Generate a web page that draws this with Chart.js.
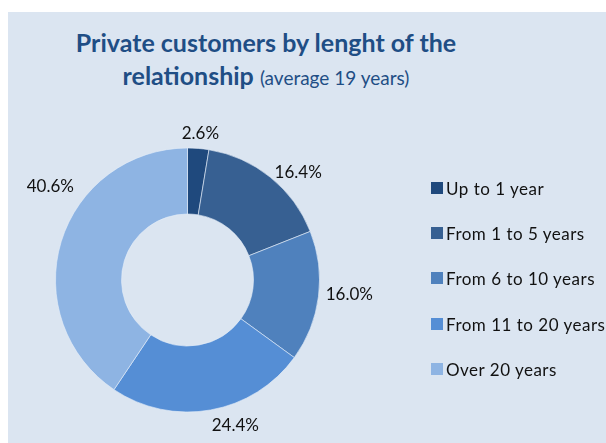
<!DOCTYPE html>
<html>
<head>
<meta charset="utf-8">
<script src="https://cdn.jsdelivr.net/npm/chart.js@4"></script>
<style>
  html, body { margin: 0; padding: 0; background: #ffffff; }
  body { width: 606px; height: 443px; position: relative; overflow: hidden; font-family: Lato, "Open Sans", sans-serif; }
  #panel { position: absolute; left: 8px; top: 12px; right: 0; bottom: 0; background: #dbe5f1; }
  #title { position: absolute; left: 0; width: 532px; top: 26px; text-align: center; color: #1f4e85;
           font-weight: bold; font-size: 25px; line-height: 33px; }
  #title .sub { font-weight: normal; font-size: 19px; }
  #legend { position: absolute; left: 431px; top: 0; }
  .item { position: absolute; left: 0; white-space: nowrap; font-size: 17px; letter-spacing: 0.5px; color: #111; line-height: 17px; }
  .item i { position: absolute; left: 0; top: 2px; width: 12px; height: 12px; }
  .item span { position: absolute; left: 15px; top: 0; }
  #chartBox { position: absolute; left: 0; top: 0; width: 606px; height: 443px; }
</style>
</head>
<body>
<div id="panel"></div>
<div id="title">Private customers by lenght of the<br>relationship <span class="sub">(average 19 years)</span></div>
<div id="chartBox"><canvas id="donut" width="606" height="443"></canvas></div>
<div id="legend"></div>

<script>
// --- DATOS ---
const categories = ['Up to 1 year', 'From 1 to 5 years', 'From 6 to 10 years', 'From 11 to 20 years', 'Over 20 years'];
const shares = [2.6, 16.4, 16.0, 24.4, 40.6];
const colors = ['#1f497d', '#376092', '#4f81bd', '#558ed5', '#8eb4e3'];

// --- LEYENDA ---
const legend = document.getElementById('legend');
categories.forEach((name, i) => {
    const row = document.createElement('div');
    row.className = 'item';
    row.style.top = (180 + i * 45.2) + 'px';
    row.innerHTML = '<i style="background:' + colors[i] + '"></i><span>' + name + '</span>';
    legend.appendChild(row);
});

// Etiquetas de porcentaje fuera del anillo
const outsideLabels = {
    id: 'outsideLabels',
    afterDatasetsDraw(chart, args, opts) {
        const ctx = chart.ctx;
        const meta = chart.getDatasetMeta(0);
        ctx.save();
        ctx.font = opts.font;
        ctx.fillStyle = opts.color;
        ctx.textAlign = 'center';
        ctx.textBaseline = 'middle';
        meta.data.forEach((arc, i) => {
            const p = arc.getProps(['x', 'y', 'startAngle', 'endAngle', 'outerRadius'], true);
            const a = (p.startAngle + p.endAngle) / 2 + (opts.nudge[i] || 0) * Math.PI / 180;
            const text = chart.data.datasets[0].data[i].toFixed(1) + '%';
            const w = ctx.measureText(text).width;
            const h = 16;
            const r = p.outerRadius + opts.gap + (opts.extra[i] || 0);
            const x = p.x + Math.cos(a) * r + Math.cos(a) * w / 2;
            const y = p.y + Math.sin(a) * r + Math.sin(a) * h / 2;
            ctx.fillText(text, x, y);
        });
        ctx.restore();
    }
};

new Chart(document.getElementById('donut'), {
    type: 'doughnut',
    data: {
        labels: categories,
        datasets: [{
            data: shares,
            backgroundColor: colors,
            borderColor: 'rgba(230,238,248,0.6)',
            borderWidth: 1,
            hoverOffset: 0
        }]
    },
    options: {
        responsive: false,
        animation: false,
        cutout: '50%',
        layout: { padding: { left: 55, top: 147.5, right: 286, bottom: 30.5 } },
        plugins: {
            legend: { display: false },
            tooltip: { enabled: false },
            outsideLabels: {
                font: '17px Lato',
                color: '#111111',
                gap: 7,
                nudge: [0, 4, -1.5, -6.5, 20],
                extra: [0, 0, 0, 5, 9]
            }
        }
    },
    plugins: [outsideLabels]
});
</script>
</body>
</html>
